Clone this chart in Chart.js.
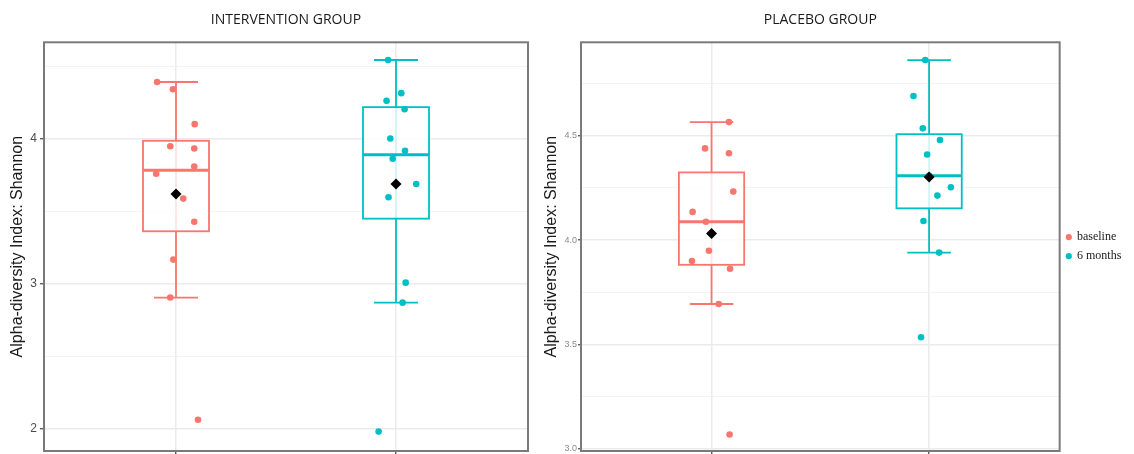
<!DOCTYPE html>
<html>
<head>
<meta charset="utf-8">
<script src="https://cdn.jsdelivr.net/npm/chart.js@4.4.0/dist/chart.umd.min.js"></script>
<style>
  html, body { margin: 0; padding: 0; background: #fff; }
  body { width: 1134px; height: 454px; position: relative; overflow: hidden; }
  canvas { position: absolute; top: 0; }
  #intervention { left: 0; }
  #placebo { left: 540px; }
</style>
</head>
<body>
<canvas id="intervention" width="540" height="454"></canvas>
<canvas id="placebo" width="594" height="454"></canvas>
<script>
const categories = ['baseline', '6 months'];
const categoryPos = [1, 2];
const colors = ['#F8766D', '#00BFC4'];

// Shannon index per subject; jitter = horizontal offset of each dot
const interventionBaseline = [4.394, 4.344, 4.103, 3.95, 3.935, 3.81, 3.761, 3.589, 3.429, 3.168, 2.906, 2.063];
const interventionBaselineJitter = [-0.086, -0.014, 0.085, -0.026, 0.083, 0.083, -0.09, 0.033, 0.083, -0.012, -0.026, 0.1];
const intervention6m = [4.546, 4.317, 4.264, 4.206, 4.004, 3.919, 3.864, 3.69, 3.598, 3.009, 2.871, 1.981];
const intervention6mJitter = [-0.036, 0.024, -0.043, 0.039, -0.026, 0.041, -0.015, 0.092, -0.034, 0.044, 0.03, -0.079];
const placeboBaseline = [4.565, 4.439, 4.416, 4.232, 4.135, 4.088, 3.949, 3.90, 3.863, 3.694, 3.069];
const placeboBaselineJitter = [0.08, -0.03, 0.08, 0.10, -0.087, -0.026, -0.012, -0.09, 0.085, 0.033, 0.083];
const placebo6m = [4.862, 4.69, 4.535, 4.479, 4.41, 4.308, 4.253, 4.213, 4.091, 3.94, 3.535];
const placebo6mJitter = [-0.018, -0.072, -0.029, 0.05, -0.009, 0.0, 0.1, 0.038, -0.026, 0.046, -0.037];

const interventionTicks = [2, 3, 4];
const interventionTickLabels = ['2', '3', '4'];
const interventionMinorTicks = [2.5, 3.5, 4.5];
const placeboTicks = [3, 3.5, 4, 4.5];
const placeboTickLabels = ['3.0', '3.5', '4.0', '4.5'];
const placeboMinorTicks = [3.25, 3.75, 4.25, 4.75];

Chart.defaults.font.family = "'Liberation Sans', Arial, sans-serif";

function quantile(s, p) {
  const h = (s.length - 1) * p;
  const lo = Math.floor(h);
  const next = lo + 1 < s.length ? s[lo + 1] : s[lo];
  return s[lo] + (h - lo) * (next - s[lo]);
}

function boxStats(values) {
  const s = values.slice().sort((a, b) => a - b);
  const q1 = quantile(s, 0.25), med = quantile(s, 0.5), q3 = quantile(s, 0.75);
  const iqr = q3 - q1;
  const lo = s.find(v => v >= q1 - 1.5 * iqr);
  const hi = s.filter(v => v <= q3 + 1.5 * iqr).pop();
  const mean = s.reduce((a, b) => a + b, 0) / s.length;
  return { q1, med, q3, lo, hi, mean };
}

// boxes + whiskers under the dots, panel border on top
const boxPlugin = {
  id: 'boxes',
  beforeDatasetsDraw(chart, args, opts) {
    const { ctx, chartArea: a, scales: { x, y } } = chart;
    ctx.save();
    ctx.beginPath();
    ctx.rect(a.left, a.top, a.width, a.height);
    ctx.clip();
    opts.groups.forEach((g, i) => {
      const st = boxStats(g);
      const cx = x.getPixelForValue(categoryPos[i]);
      const bl = x.getPixelForValue(categoryPos[i] - 0.15);
      const br = x.getPixelForValue(categoryPos[i] + 0.15);
      const cl = x.getPixelForValue(categoryPos[i] - 0.1);
      const cr = x.getPixelForValue(categoryPos[i] + 0.1);
      ctx.strokeStyle = colors[i];
      ctx.lineWidth = 1.8;
      ctx.beginPath();
      ctx.moveTo(cx, y.getPixelForValue(st.lo));
      ctx.lineTo(cx, y.getPixelForValue(st.hi));
      ctx.moveTo(cl, y.getPixelForValue(st.lo));
      ctx.lineTo(cr, y.getPixelForValue(st.lo));
      ctx.moveTo(cl, y.getPixelForValue(st.hi));
      ctx.lineTo(cr, y.getPixelForValue(st.hi));
      ctx.stroke();
      const top = y.getPixelForValue(st.q3), bot = y.getPixelForValue(st.q1);
      ctx.fillStyle = 'rgba(255,255,255,0.82)';
      ctx.fillRect(bl, top, br - bl, bot - top);
      ctx.strokeRect(bl, top, br - bl, bot - top);
      ctx.lineWidth = 3;
      ctx.beginPath();
      ctx.moveTo(bl, y.getPixelForValue(st.med));
      ctx.lineTo(br, y.getPixelForValue(st.med));
      ctx.stroke();
    });
    ctx.restore();
  },
  afterDatasetsDraw(chart) {
    const { ctx, chartArea: a } = chart;
    ctx.save();
    ctx.strokeStyle = '#7a7a7a';
    ctx.lineWidth = 2;
    ctx.strokeRect(a.left, a.top, a.width, a.height);
    ctx.restore();
  }
};

function makeChart(id, title, groups, jitters, yMin, yMax, ticks, labels, minor, cfg) {
  const datasets = [{
    label: 'mean',
    data: groups.map((g, i) => ({ x: categoryPos[i], y: boxStats(g).mean })),
    pointStyle: 'rectRot',
    pointRadius: 5.5,
    pointHoverRadius: 5.5,
    backgroundColor: '#000',
    borderWidth: 0,
    order: 0
  }];
  groups.forEach((g, i) => {
    datasets.push({
      label: categories[i],
      data: g.map((v, k) => ({ x: categoryPos[i] + jitters[i][k], y: v })),
      pointRadius: 3.3,
      pointHoverRadius: 3.3,
      backgroundColor: colors[i],
      borderColor: colors[i],
      borderWidth: 0,
      order: 1
    });
  });
  const allTicks = ticks.concat(minor).sort((a, b) => a - b);
  return new Chart(document.getElementById(id), {
    type: 'scatter',
    data: { datasets },
    plugins: [boxPlugin],
    options: {
      responsive: false,
      animation: false,
      devicePixelRatio: 1,
      layout: { autoPadding: false, padding: { left: 0, right: cfg.padRight, top: 0, bottom: 0 } },
      plugins: {
        boxes: { groups },
        tooltip: { enabled: false },
        title: {
          display: true,
          text: title,
          fullSize: false,
          color: '#1a1a1a',
          font: { family: "'Open Sans', sans-serif", size: 14, weight: 'normal' },
          padding: { top: 11.6, bottom: 13.9 }
        },
        legend: {
          display: cfg.legend,
          position: 'right',
          fullSize: false,
          labels: {
            filter: item => item.text !== 'mean',
            usePointStyle: true,
            pointStyle: 'circle',
            boxWidth: 4.3,
            boxHeight: 4.3,
            padding: 7,
            color: '#1a1a1a',
            font: { family: "'Liberation Serif', serif", size: 12 }
          }
        }
      },
      scales: {
        x: {
          type: 'linear',
          min: 0.4,
          max: 2.6,
          afterBuildTicks: s => { s.ticks = categoryPos.map(v => ({ value: v })); },
          afterFit: s => { s.height = 3; s.paddingLeft = 0; s.paddingRight = 0; },
          ticks: { display: false },
          border: { display: false },
          grid: { color: '#ebebeb', lineWidth: 1.5, tickLength: 3, tickColor: '#444', tickWidth: 1.2 }
        },
        y: {
          min: yMin,
          max: yMax,
          afterBuildTicks: s => { s.ticks = allTicks.map(v => ({ value: v })); },
          afterFit: s => { s.width = cfg.axisWidth; s.paddingTop = 0; s.paddingBottom = 0; },
          border: { display: false },
          grid: {
            color: c => (c.tick && ticks.includes(c.tick.value)) ? '#ebebeb' : '#f3f3f3',
            lineWidth: c => (c.tick && ticks.includes(c.tick.value)) ? 1.5 : 1,
            tickLength: cfg.tickLength,
            tickColor: c => (c.tick && ticks.includes(c.tick.value)) ? '#444' : 'rgba(0,0,0,0)',
            tickWidth: 1.2
          },
          ticks: {
            autoSkip: false,
            padding: cfg.tickPad,
            color: cfg.tickColor,
            font: { size: cfg.tickSize },
            callback: v => { const k = ticks.indexOf(v); return k >= 0 ? labels[k] : ''; }
          },
          title: {
            display: true,
            text: 'Alpha-diversity Index: Shannon',
            color: '#1a1a1a',
            font: { size: 16 },
            padding: { top: cfg.titlePad, bottom: 0 }
          }
        }
      }
    }
  });
}

makeChart('intervention', 'INTERVENTION GROUP',
  [interventionBaseline, intervention6m],
  [interventionBaselineJitter, intervention6mJitter],
  1.847, 4.668, interventionTicks, interventionTickLabels, interventionMinorTicks,
  { padRight: 12, legend: false, axisWidth: 44, tickLength: 4, tickPad: 3, tickColor: '#4d4d4d', tickSize: 12, titlePad: 8.4 });

makeChart('placebo', 'PLACEBO GROUP',
  [placeboBaseline, placebo6m],
  [placeboBaselineJitter, placebo6mJitter],
  2.99, 4.947, placeboTicks, placeboTickLabels, placeboMinorTicks,
  { padRight: 2.7, legend: true, axisWidth: 41, tickLength: 3, tickPad: 1, tickColor: '#8a8a8a', tickSize: 9, titlePad: 2.4 });
</script>
</body>
</html>
